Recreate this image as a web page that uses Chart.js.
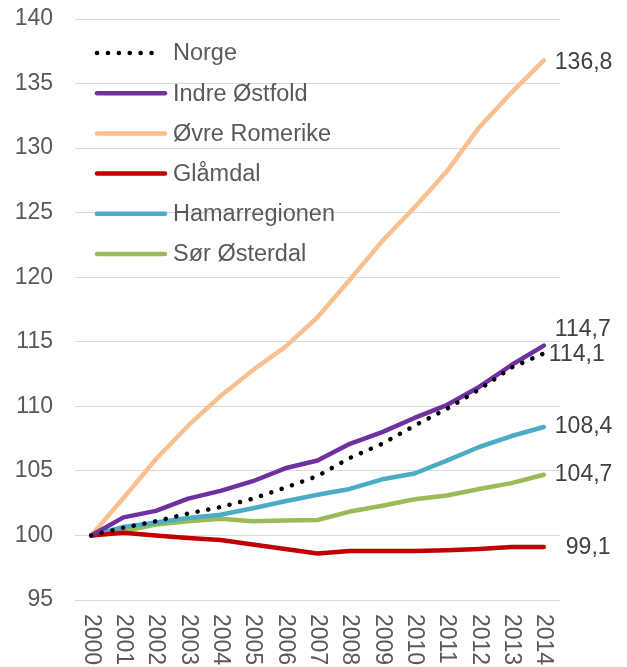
<!DOCTYPE html>
<html>
<head>
<meta charset="utf-8">
<script src="https://cdn.jsdelivr.net/npm/chart.js@4.4.1/dist/chart.umd.min.js"></script>
<style>
  html, body { margin: 0; padding: 0; background: #fff; }
  #wrap { width: 627px; height: 667px; }
</style>
</head>
<body>
<div id="wrap"><canvas id="line-chart"></canvas></div>
<script>
var years = ["2000", "2001", "2002", "2003", "2004", "2005", "2006", "2007", "2008", "2009", "2010", "2011", "2012", "2013", "2014"];
var yTicks = [95, 100, 105, 110, 115, 120, 125, 130, 135, 140];

var norge = [100, 100.6, 101.1, 101.7, 102.2, 102.85, 103.7, 104.6, 106.0, 107.1, 108.5, 109.8, 111.3, 113.0, 114.1];
var indreOstfold = [100, 101.4, 101.9, 102.85, 103.45, 104.2, 105.2, 105.8, 107.1, 108.0, 109.1, 110.1, 111.5, 113.2, 114.7];
var ovreRomerike = [100, 102.9, 105.9, 108.5, 110.8, 112.8, 114.6, 116.9, 119.8, 122.8, 125.4, 128.2, 131.6, 134.3, 136.8];
var glamdal = [100, 100.2, 100.0, 99.8, 99.65, 99.3, 98.95, 98.6, 98.8, 98.8, 98.8, 98.85, 98.95, 99.1, 99.1];
var hamarregionen = [100, 100.65, 101.0, 101.35, 101.6, 102.1, 102.65, 103.15, 103.6, 104.35, 104.8, 105.8, 106.85, 107.7, 108.4];
var sorOsterdal = [100, 100.35, 100.85, 101.1, 101.3, 101.1, 101.15, 101.2, 101.85, 102.3, 102.8, 103.1, 103.6, 104.05, 104.7];

var font = "'Liberation Sans', Arial, sans-serif";
var textColor = "#595959";

// labels at the end of each line, nudged so they don't overlap
var endLabelOffsets = [
    { dx: 5, dy: 1 },     // Norge
    { dx: 11, dy: -16 },  // Indre Østfold
    { dx: 11, dy: 2 },    // Øvre Romerike
    { dx: 22, dy: 1 },    // Glåmdal
    { dx: 11, dy: 0 },    // Hamarregionen
    { dx: 11, dy: 0 }     // Sør Østerdal
];

var customDraw = {
    id: 'customDraw',
    afterDraw: function (chart) {
        var ctx = chart.ctx;
        var xScale = chart.scales.x;
        var yScale = chart.scales.y;
        ctx.save();
        ctx.font = "23px " + font;
        ctx.fillStyle = textColor;

        // x labels, rotated to read top to bottom
        years.forEach(function (y, i) {
            ctx.save();
            ctx.translate(xScale.getPixelForValue(i), 614);
            ctx.rotate(Math.PI / 2);
            ctx.textAlign = "left";
            ctx.textBaseline = "middle";
            ctx.fillText(y, 0, 0);
            ctx.restore();
        });

        // legend inside the plot
        ctx.font = "23.5px " + font;
        chart.data.datasets.forEach(function (ds, i) {
            var ly = 53 + i * 40.2;
            ctx.save();
            ctx.strokeStyle = ds.borderColor;
            ctx.lineWidth = ds.borderWidth;
            ctx.lineCap = "round";
            if (ds.borderDash) ctx.setLineDash(ds.borderDash);
            ctx.beginPath();
            ctx.moveTo(97, ly);
            ctx.lineTo(ds.borderDash ? 160 : 165, ly);
            ctx.stroke();
            ctx.restore();
            ctx.textAlign = "left";
            ctx.textBaseline = "middle";
            ctx.fillText(ds.label, 173, ly + 1);
        });

        // end values
        ctx.font = "23px " + font;
        ctx.fillStyle = "#404040";
        chart.data.datasets.forEach(function (ds, i) {
            var last = ds.data.length - 1;
            var v = ds.data[last];
            var px = xScale.getPixelForValue(last);
            var py = yScale.getPixelForValue(v);
            var off = endLabelOffsets[i];
            ctx.textAlign = "left";
            ctx.textBaseline = "middle";
            ctx.fillText(v.toFixed(1).replace(".", ","), px + off.dx, py + off.dy);
        });
        ctx.restore();
    }
};

new Chart(document.getElementById("line-chart"), {
    type: 'line',
    data: {
        labels: years,
        datasets: [{
            label: "Norge",
            data: norge,
            borderColor: "#000000",
            borderWidth: 4.5,
            borderDash: [0.1, 10.8],
            borderCapStyle: "round",
            order: 0
        }, {
            label: "Indre Østfold",
            data: indreOstfold,
            borderColor: "#7030A0",
            borderWidth: 4.5,
            borderCapStyle: "round",
            order: 1
        }, {
            label: "Øvre Romerike",
            data: ovreRomerike,
            borderColor: "#FAC08F",
            borderWidth: 4.5,
            borderCapStyle: "round",
            order: 2
        }, {
            label: "Glåmdal",
            data: glamdal,
            borderColor: "#C00000",
            borderWidth: 4.5,
            borderCapStyle: "round",
            order: 3
        }, {
            label: "Hamarregionen",
            data: hamarregionen,
            borderColor: "#4BACC6",
            borderWidth: 4.5,
            borderCapStyle: "round",
            order: 4
        }, {
            label: "Sør Østerdal",
            data: sorOsterdal,
            borderColor: "#9BBB59",
            borderWidth: 4.5,
            borderCapStyle: "round",
            order: 5
        }]
    },
    options: {
        responsive: true,
        maintainAspectRatio: false,
        animation: {
            duration: 0
        },
        layout: {
            padding: { top: 19, right: 67, bottom: 67, left: 0 }
        },
        elements: {
            point: { radius: 0 },
            line: { tension: 0, borderJoinStyle: "round" }
        },
        plugins: {
            legend: { display: false },
            tooltip: { enabled: false }
        },
        scales: {
            x: {
                offset: true,
                grid: { display: false, drawTicks: false },
                border: { display: false },
                ticks: { display: false },
                afterFit: function (scale) { scale.height = 0; }
            },
            y: {
                min: 95,
                max: 140,
                afterBuildTicks: function (scale) {
                    scale.ticks = yTicks.map(function (v) { return { value: v }; });
                },
                grid: { color: "#D9D9D9", lineWidth: 1, drawTicks: false },
                border: { display: false },
                ticks: {
                    padding: 22,
                    color: textColor,
                    font: { family: font, size: 23 }
                },
                afterFit: function (scale) {
                    scale.width = 75;
                    scale.paddingTop = 0;
                    scale.paddingBottom = 0;
                }
            }
        }
    },
    plugins: [customDraw]
});
</script>
</body>
</html>
